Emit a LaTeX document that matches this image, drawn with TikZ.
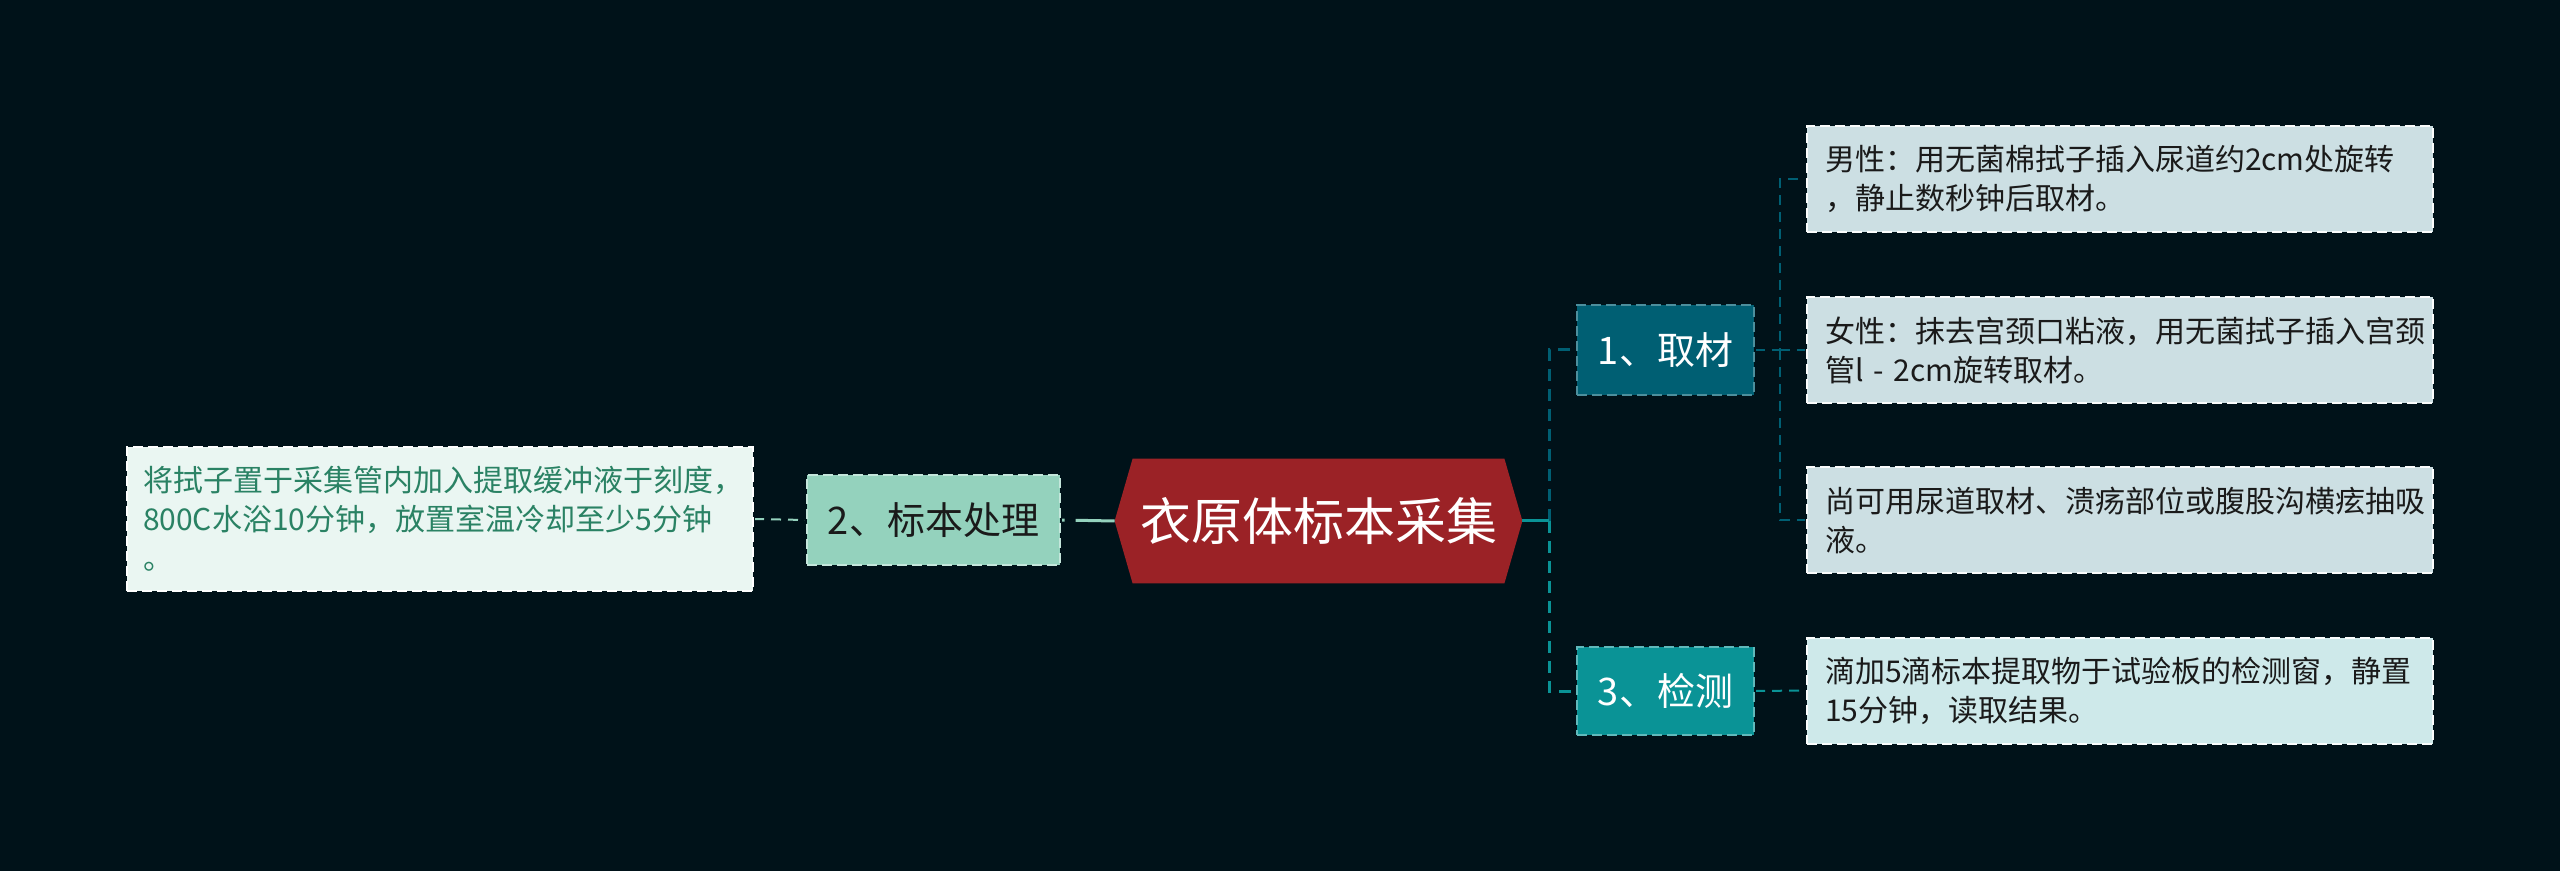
\documentclass[tikz,border=0pt]{standalone}
\usepackage{fontspec}
\setmainfont{Noto Sans CJK SC}
\usetikzlibrary{calc,backgrounds}
\pgfdeclarelayer{canvas}
\pgfsetlayers{canvas,background,main}
\definecolor{bg}{HTML}{001219}
\definecolor{cred}{HTML}{9B2226}
\definecolor{cdark}{HTML}{005F73}
\definecolor{cteal}{HTML}{0A9396}
\definecolor{cmint}{HTML}{94D2BD}
\definecolor{leafA}{HTML}{CCDFE3}
\definecolor{leafB}{HTML}{CEE9EA}
\definecolor{leafC}{HTML}{EAF6F2}
\definecolor{leftText}{HTML}{2A8264}
\definecolor{txt}{HTML}{1A1A1A}
\newcommand{\leaffont}{\fontsize{15pt}{19.5pt}\selectfont}
\newcommand{\topicfont}{\fontsize{19pt}{23pt}\selectfont}
\newcommand{\rootfont}{\fontsize{25.5pt}{30pt}\selectfont}
\tikzset{
  box/.style={rectangle, inner sep=0pt, align=center,
    preaction={draw=bg, solid, line width=1.6pt},
    dash pattern=on 5pt off 2.5pt, line width=1pt},
  topic/.style={box, minimum width=88.5pt, minimum height=45pt, font=\topicfont},
  leaf/.style={box, align=left, text width=295pt, inner xsep=9pt,
    minimum height=53pt, text=txt, font=\leaffont},
  mainedge/.style={line width=1.5pt, dash pattern=on 6pt off 4pt},
  leafedge/.style={line width=1pt, dash pattern=on 5pt off 3.5pt},
}
\begin{document}
\begin{tikzpicture}[x=0.5pt,y=-0.5pt]
\begin{pgfonlayer}{canvas}
\fill[bg] (0,0) rectangle (2560,871);
\end{pgfonlayer}
\useasboundingbox (0,0) rectangle (2560,871);

% root
\node[inner sep=0pt, minimum width=185.5pt, minimum height=62pt,
      text=white, font=\rootfont] (root) at (1318.5,521) {衣原体标本采集};
\begin{scope}[on background layer]
\fill[cred] (root.north west) -- (root.north east) -- ($(root.east)+(18,0)$)
  -- (root.south east) -- (root.south west) -- ($(root.west)+(-18,0)$) -- cycle;
\end{scope}
\coordinate (rootL) at ($(root.west)+(-18,0)$);
\coordinate (rootR) at ($(root.east)+(18,0)$);

% topics
\node[topic, fill=cmint, draw=cmint!55!white, text=txt, minimum width=126.5pt]
  (n2) at (933.5,520) {2、标本处理};
\node[topic, fill=cdark, draw=cdark!70!white, text=white]
  (n1) at (1665.5,350) {1、取材};
\node[topic, fill=cteal, draw=cteal!65!white, text=white, minimum height=44pt]
  (n3) at (1665.5,691) {3、检测};

% leaves
\node[box, fill=leafC, draw=white, align=left, text width=297pt, inner xsep=8pt,
      minimum height=72pt, text=leftText, font=\leaffont]
  (l1) at (440,519) {将拭子置于采集管内加入提取缓冲液于刻度，\\800C水浴10分钟，放置室温冷却至少5分钟\\。};
\node[leaf, fill=leafA, draw=white!90!leafA] (r1) at (2120,179)
  {男性：用无菌棉拭子插入尿道约2cm处旋转\\，静止数秒钟后取材。};
\node[leaf, fill=leafA, draw=white!90!leafA] (r2) at (2120,350)
  {女性：抹去宫颈口粘液，用无菌拭子插入宫颈\\管l - 2cm旋转取材。};
\node[leaf, fill=leafA, draw=white!90!leafA] (r3) at (2120,520)
  {尚可用尿道取材、溃疡部位或腹股沟横痃抽吸\\液。};
\node[leaf, fill=leafB, draw=white!90!leafB] (r4) at (2120,690.5)
  {滴加5滴标本提取物于试验板的检测窗，静置\\15分钟，读取结果。};

% connectors
\begin{scope}[on background layer]
\draw[cmint, line width=1.5pt, dash pattern=on 19.5pt off 5.5pt on 10pt off 10pt]
  (rootL) -- (n2.east);
\draw[cmint, leafedge] (l1.east) -- (n2.west);
\coordinate (busA) at (1549,521);
\draw[cdark, mainedge] (busA) |- (n1.west);
\draw[cteal, mainedge] (busA) |- (n3.west);
\draw[cteal, line width=1.5pt] (rootR) -- (busA);
\coordinate (busB) at (1780,350);
\draw[cdark, leafedge] (n1.east) -- (busB) |- (r1.west);
\draw[cdark, leafedge] (busB) -- (r2.west);
\draw[cdark, leafedge] (busB) |- (r3.west);
\draw[cteal, leafedge] (n3.east) -- (r4.west);
\end{scope}
\end{tikzpicture}
\end{document}
